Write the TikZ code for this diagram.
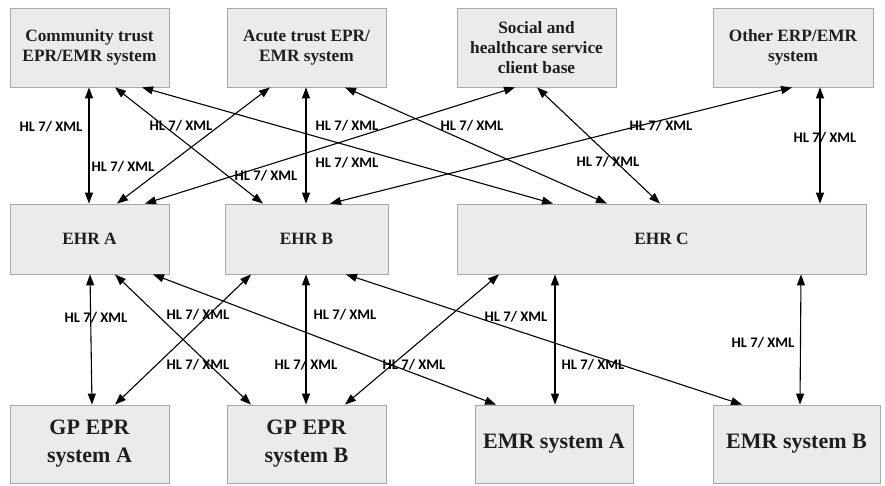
\documentclass[tikz,border=0pt]{standalone}
\usepackage{fontspec}
\setmainfont{Liberation Serif}
\newfontfamily\labfont{Carlito}
\usetikzlibrary{arrows.meta,calc}
\definecolor{boxfill}{HTML}{EBEBEB}
\definecolor{boxline}{HTML}{A8A8A8}
\definecolor{boxtext}{HTML}{1E1E1E}
\tikzset{
  sysbox/.style={draw=boxline, line width=0.8pt, fill=boxfill, inner sep=0pt, align=center,
     text=boxtext, font=\fontsize{17.3}{20}\selectfont\bfseries},
  bigbox/.style={sysbox, font=\fontsize{22}{28}\selectfont\bfseries},
  link/.style={line width=1.1pt, {Triangle[length=11pt,width=8pt]}-{Triangle[length=11pt,width=8pt]}},
  lab/.style={font=\labfont\fontsize{14.6}{16}\selectfont\bfseries, inner sep=0pt}
}
\begin{document}
\begin{tikzpicture}[x=1pt,y=-1pt]
\useasboundingbox (0,0) rectangle (885,486);
% top row
\node[sysbox, minimum width=159pt, minimum height=79pt] (comm) at (89.5,47.5) {Community trust\\EPR/EMR system};
\node[sysbox, minimum width=159pt, minimum height=79pt] (acute) at (306.5,47.5) {Acute trust EPR/\\EMR system};
\node[sysbox, minimum width=159pt, minimum height=79pt] (social) at (536.5,47.5) {Social and\\healthcare service\\client base};
\node[sysbox, minimum width=160pt, minimum height=79pt] (other) at (793,47.5) {Other ERP/EMR\\system};
% middle row
\node[sysbox, minimum width=159pt, minimum height=70pt] (ehra) at (89.5,239) {EHR A};
\node[sysbox, minimum width=163pt, minimum height=70pt] (ehrb) at (306.5,239) {EHR B};
\node[sysbox, minimum width=409pt, minimum height=70pt] (ehrc) at (661.5,239) {EHR C};
% bottom row
\node[bigbox, minimum width=159pt, minimum height=78pt] (gpa) at (89.5,444) {GP EPR\\system A};
\node[bigbox, minimum width=159pt, minimum height=78pt] (gpb) at (306.5,444) {GP EPR\\system B};
\node[bigbox, minimum width=158pt, minimum height=78pt] (emra) at (554,444) {EMR system A};
\node[bigbox, minimum width=167pt, minimum height=78pt] (emrb) at (796.5,444) {EMR system B};
% top to middle links
\draw[link] (comm.south -| 89,0) -- (ehra.north -| 89,0);
\draw[link] (comm.south -| 115,0) -- (ehrb.north -| 263,0);
\draw[link] (comm.south -| 142,0) -- (ehrc.north -| 553,0);
\draw[link] (acute.south -| 270,0) -- (ehra.north -| 117,0);
\draw[link] (acute.south -| 306,0) -- (ehrb.north -| 306,0);
\draw[link] (acute.south -| 345,0) -- (ehrc.north -| 607,0);
\draw[link] (social.south -| 515,0) -- (ehra.north -| 145,0);
\draw[link] (social.south -| 537,0) -- (ehrc.north -| 660,0);
\draw[link] (other.south -| 792,0) -- (ehrb.north -| 330,0);
\draw[link] (other.south -| 820,0) -- (ehrc.north -| 820,0);
% middle to bottom links
\draw[link] (ehra.south -| 90,0) -- (gpa.north -| 92,0);
\draw[link] (ehra.south -| 115,0) -- (gpb.north -| 251,0);
\draw[link] (ehra.south -| 153,0) -- (emra.north -| 496,0);
\draw[link] (ehrb.south -| 251,0) -- (gpa.north -| 115,0);
\draw[link] (ehrb.south -| 306,0) -- (gpb.north -| 306,0);
\draw[link] (ehrb.south -| 346,0) -- (emrb.north -| 742,0);
\draw[link] (ehrc.south -| 499,0) -- (gpb.north -| 345,0);
\draw[link] (ehrc.south -| 555,0) -- (emra.north -| 555,0);
\draw[link] (ehrc.south -| 801,0) -- (emrb.north -| 800,0);
% labels top region
\node[lab] (l1) at (51,127) {HL 7/ XML};
\node[lab] (l2) at (181,126) {HL 7/ XML};
\node[lab] (l3) at (123,167) {HL 7/ XML};
\node[lab] (l4) at (347,126) {HL 7/ XML};
\node[lab] (l5) at (347,163) {HL 7/ XML};
\node[lab] (l6) at (266,176) {HL 7/ XML};
\node[lab] (l7) at (472,126) {HL 7/ XML};
\node[lab] (l8) at (661,126) {HL 7/ XML};
\node[lab] (l9) at (608,162) {HL 7/ XML};
\node[lab] (l10) at (825,138) {HL 7/ XML};
% labels bottom region
\node[lab] (l11) at (96,318) {HL 7/ XML};
\node[lab] (l12) at (198,315) {HL 7/ XML};
\node[lab] (l13) at (345,315) {HL 7/ XML};
\node[lab] (l14) at (516,317) {HL 7/ XML};
\node[lab] (l15) at (198,365) {HL 7/ XML};
\node[lab] (l16) at (306,365) {HL 7/ XML};
\node[lab] (l17) at (414,365) {HL 7/ XML};
\node[lab] (l18) at (593,365) {HL 7/ XML};
\node[lab] (l19) at (763,343) {HL 7/ XML};
\end{tikzpicture}
\end{document}
